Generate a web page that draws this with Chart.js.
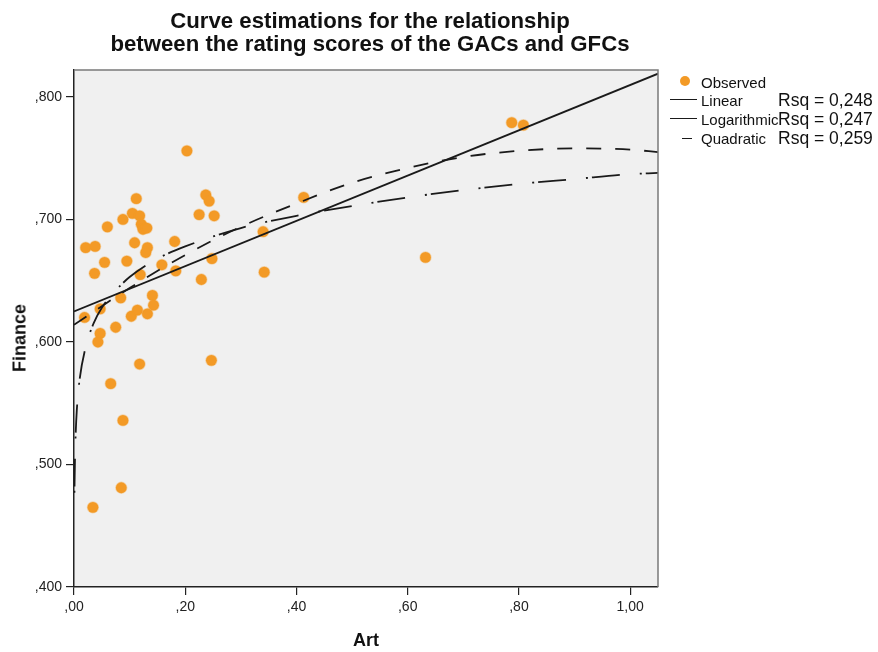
<!DOCTYPE html>
<html>
<head>
<meta charset="utf-8">
<script src="https://cdn.jsdelivr.net/npm/chart.js@4/dist/chart.umd.min.js"></script>
<style>
  html, body { margin: 0; padding: 0; background: #ffffff; }
  #wrap { position: relative; width: 878px; height: 652px; font-family: "Liberation Sans", Arial, sans-serif; color: #111; }
  #c { position: absolute; left: 0; top: 0; }
  .title { position: absolute; left: 0; width: 740px; text-align: center; font-weight: bold; font-size: 22.2px; line-height: 23px; white-space: nowrap; }
  .axt { position: absolute; font-weight: bold; font-size: 18px; white-space: nowrap; }
  .lg { position: absolute; white-space: nowrap; font-size: 15px; line-height: 17px; color: #111; }
  .rsq { position: absolute; white-space: nowrap; font-size: 17.5px; line-height: 19px; color: #111; }
  .smp { position: absolute; height: 0; border-top: 1.6px solid #1a1a1a; }
  .dot { position: absolute; width: 10px; height: 10px; border-radius: 50%; background: #f39a26; }
</style>
</head>
<body>
<div id="wrap">
  <canvas id="c" width="878" height="652"></canvas>
  <div class="title" style="top:9px;">Curve estimations for the relationship</div>
  <div class="title" style="top:32px;">between the rating scores of the GACs and GFCs</div>
  <div class="axt" style="left:366px; top:640px; transform:translate(-50%,-50%);">Art</div>
  <div class="axt" style="left:20px; top:338px; transform:translate(-50%,-50%) rotate(-90deg);">Finance</div>

  <div class="dot" style="left:680px; top:76px;"></div>
  <div class="lg" style="left:701px; top:74px;">Observed</div>
  <div class="smp" style="left:670px; top:99px; width:27px;"></div>
  <div class="lg" style="left:701px; top:92px;">Linear</div>
  <div class="rsq" style="left:778px; top:91px;">Rsq = 0,248</div>
  <div class="smp" style="left:670px; top:118px; width:27px;"></div>
  <div class="lg" style="left:701px; top:111px;">Logarithmic</div>
  <div class="rsq" style="left:778px; top:110px;">Rsq = 0,247</div>
  <div class="smp" style="left:682px; top:138px; width:10px;"></div>
  <div class="lg" style="left:701px; top:130px;">Quadratic</div>
  <div class="rsq" style="left:778px; top:129px;">Rsq = 0,259</div>
</div>
<script>
// ---- data ----
const artValues = [0.019,0.021,0.038,0.037,0.055,0.060,0.047,0.047,0.043,0.066,
  0.075,0.088,0.084,0.088,0.085,0.034,0.095,0.105,0.112,0.118,
  0.103,0.109,0.119,0.114,0.118,0.121,0.124,0.131,0.132,0.129,
  0.132,0.141,0.143,0.158,0.181,0.183,0.203,0.229,0.225,0.237,
  0.243,0.248,0.252,0.247,0.340,0.342,0.413,0.632,0.787,0.808];
const financeValues = [0.620,0.677,0.678,0.656,0.665,0.694,0.627,0.607,0.600,0.566,
  0.612,0.700,0.636,0.536,0.481,0.465,0.666,0.705,0.717,0.703,
  0.621,0.681,0.655,0.626,0.582,0.696,0.692,0.693,0.677,0.673,
  0.623,0.638,0.630,0.663,0.682,0.658,0.756,0.651,0.704,0.720,
  0.715,0.668,0.703,0.585,0.690,0.657,0.718,0.669,0.779,0.777];

const linearX = [0, 1.05];
const linearY = [0.625, 0.819];

const logX = [0.0008,0.001,0.002,0.003,0.005,0.01,0.02,0.035,0.05,0.075,0.1,0.15,0.2,0.3,0.4,0.5,0.6,0.7,0.8,0.9,1.0,1.05];
const logY = [0.477,0.485,0.510,0.525,0.544,0.569,0.594,0.615,0.628,0.642,0.653,0.668,0.678,0.693,0.703,0.711,0.718,0.724,0.729,0.733,0.737,0.738];

const quadX = [0,0.1,0.2,0.3,0.4,0.5,0.6,0.7,0.8,0.9,1.0,1.05];
const quadY = [0.614,0.644,0.671,0.694,0.713,0.730,0.742,0.751,0.756,0.758,0.757,0.755];

const xTickValues = [0, 0.2, 0.4, 0.6, 0.8, 1.0];
const yTickValues = [0.4, 0.5, 0.6, 0.7, 0.8];

// ---- helpers ----
const pts = (xs, ys) => xs.map((x, i) => ({x: x, y: ys[i]}));
const fmt = (v, d) => { const s = v.toFixed(d).replace('.', ','); return s.startsWith('0,') ? s.slice(1) : s; };

const plotFrame = {
  id: 'plotFrame',
  beforeDraw(chart) {
    const a = chart.chartArea, ctx = chart.ctx;
    ctx.save();
    ctx.fillStyle = '#f0f0f0';
    ctx.fillRect(a.left, a.top, a.right - a.left, a.bottom - a.top);
    ctx.restore();
  },
  afterDraw(chart) {
    const a = chart.chartArea, ctx = chart.ctx;
    ctx.save();
    ctx.strokeStyle = '#7a7a7a';
    ctx.lineWidth = 1.5;
    ctx.beginPath();
    ctx.moveTo(a.left, a.top);
    ctx.lineTo(a.right, a.top);
    ctx.lineTo(a.right, a.bottom);
    ctx.stroke();
    ctx.restore();
  }
};

const tickFont = {family: '"Liberation Sans", Arial, sans-serif', size: 14};

new Chart(document.getElementById('c'), {
  type: 'scatter',
  data: {
    datasets: [
      { label: 'Linear', type: 'line', data: pts(linearX, linearY), borderColor: '#1a1a1a', borderWidth: 1.8,
        pointRadius: 0, fill: false, tension: 0 },
      { label: 'Logarithmic', type: 'line', data: pts(logX, logY), borderColor: '#1a1a1a', borderWidth: 1.8,
        borderDash: [2, 4, 28, 20], pointRadius: 0, fill: false, cubicInterpolationMode: 'monotone' },
      { label: 'Quadratic', type: 'line', data: pts(quadX, quadY), borderColor: '#1a1a1a', borderWidth: 1.8,
        borderDash: [15, 14], pointRadius: 0, fill: false, cubicInterpolationMode: 'monotone' },
      { label: 'Observed', data: pts(artValues, financeValues), backgroundColor: '#f39a26',
        borderColor: 'rgba(243,154,38,0.35)', borderWidth: 1.5, pointRadius: 5.4, pointHoverRadius: 5.4 }
    ]
  },
  options: {
    responsive: false,
    animation: false,
    events: [],
    layout: { padding: { top: 70, right: 220, left: 0, bottom: 0 } },
    plugins: { legend: { display: false }, title: { display: false }, tooltip: { enabled: false } },
    scales: {
      x: {
        type: 'linear', min: 0, max: 1.05,
        afterBuildTicks: s => { s.ticks = xTickValues.map(v => ({value: v})); },
        afterFit: s => { s.height = 65; },
        ticks: { callback: v => fmt(v, 2), font: tickFont, color: '#222', padding: 4, maxRotation: 0 },
        grid: { drawOnChartArea: false, drawTicks: true, tickLength: 8, color: '#222', lineWidth: 1.2 },
        border: { display: true, color: '#222', width: 1.5 }
      },
      y: {
        type: 'linear', min: 0.4, max: 0.822,
        afterBuildTicks: s => { s.ticks = yTickValues.map(v => ({value: v})); },
        afterFit: s => { s.width = 74; },
        ticks: { callback: v => fmt(v, 3), font: tickFont, color: '#222', padding: 4 },
        grid: { drawOnChartArea: false, drawTicks: true, tickLength: 8, color: '#222', lineWidth: 1.2 },
        border: { display: true, color: '#222', width: 1.5 }
      }
    }
  },
  plugins: [plotFrame]
});
</script>
</body>
</html>
